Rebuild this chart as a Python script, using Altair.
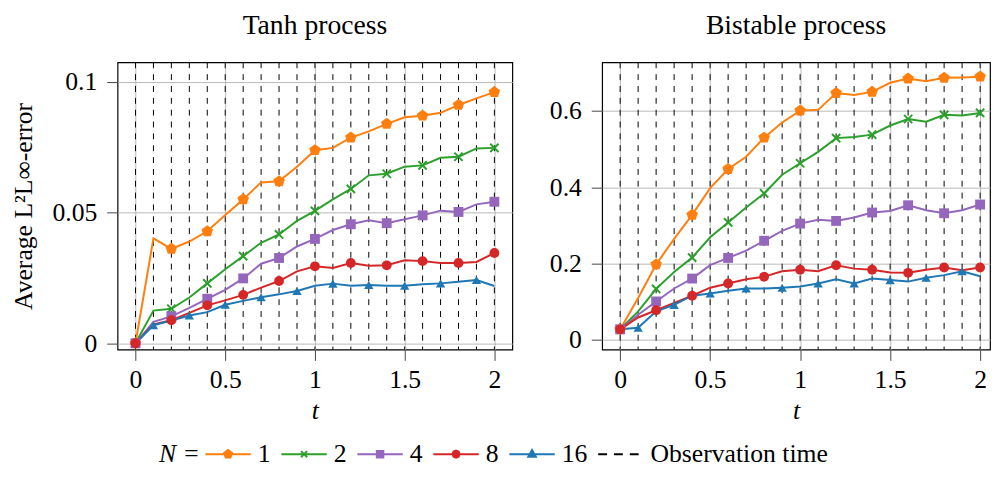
import altair as alt
import pandas as pd

# ---------------- data ----------------
t_grid = [0.0, 0.1, 0.2, 0.3, 0.4, 0.5, 0.6, 0.7, 0.8, 0.9, 1.0,
          1.1, 1.2, 1.3, 1.4, 1.5, 1.6, 1.7, 1.8, 1.9, 2.0]
obs_times = t_grid

series_names = ["1", "2", "4", "8", "16"]

tanh_N1 = [0.0, 0.0401, 0.0361, 0.0389, 0.0428, 0.0490, 0.0550, 0.0615, 0.0619, 0.0675, 0.0738,
           0.0747, 0.0786, 0.0810, 0.0839, 0.0864, 0.0870, 0.0881, 0.0911, 0.0936, 0.0960]
tanh_N2 = [0.0, 0.0125, 0.0132, 0.0175, 0.0229, 0.0283, 0.0333, 0.0384, 0.0416, 0.0468, 0.0506,
           0.0550, 0.0590, 0.0642, 0.0648, 0.0675, 0.0680, 0.0709, 0.0713, 0.0745, 0.0747]
tanh_N4 = [0.0, 0.0082, 0.0103, 0.0135, 0.0170, 0.0204, 0.0248, 0.0304, 0.0326, 0.0370, 0.0399,
           0.0433, 0.0455, 0.0470, 0.0459, 0.0474, 0.0489, 0.0507, 0.0502, 0.0531, 0.0541]
tanh_N8 = [0.0, 0.0072, 0.0088, 0.0116, 0.0145, 0.0164, 0.0185, 0.0213, 0.0238, 0.0275, 0.0294,
           0.0288, 0.0307, 0.0296, 0.0298, 0.0317, 0.0314, 0.0307, 0.0307, 0.0311, 0.0345]
tanh_N16 = [0.0, 0.0069, 0.0087, 0.0106, 0.0119, 0.0147, 0.0162, 0.0176, 0.0187, 0.0200, 0.0220,
            0.0228, 0.0220, 0.0223, 0.0220, 0.0220, 0.0226, 0.0229, 0.0235, 0.0242, 0.0219]

bist_N1 = [0.0276, 0.110, 0.198, 0.265, 0.328, 0.398, 0.448, 0.480, 0.530, 0.570, 0.601,
           0.603, 0.647, 0.642, 0.650, 0.674, 0.685, 0.678, 0.687, 0.688, 0.690]
bist_N2 = [0.028, 0.075, 0.134, 0.178, 0.216, 0.269, 0.308, 0.347, 0.384, 0.433, 0.463,
           0.493, 0.529, 0.532, 0.538, 0.562, 0.579, 0.572, 0.590, 0.588, 0.595]
bist_N4 = [0.028, 0.066, 0.101, 0.135, 0.161, 0.196, 0.215, 0.234, 0.260, 0.286, 0.305,
           0.315, 0.312, 0.321, 0.334, 0.338, 0.353, 0.340, 0.332, 0.340, 0.355]
bist_N8 = [0.028, 0.059, 0.078, 0.097, 0.116, 0.137, 0.148, 0.159, 0.166, 0.180, 0.184,
           0.180, 0.196, 0.187, 0.184, 0.177, 0.176, 0.184, 0.190, 0.183, 0.190]
bist_N16 = [0.028, 0.032, 0.075, 0.092, 0.116, 0.122, 0.129, 0.135, 0.135, 0.137, 0.140,
            0.148, 0.159, 0.148, 0.161, 0.157, 0.153, 0.163, 0.170, 0.180, 0.167]

tanh_series = [tanh_N1, tanh_N2, tanh_N4, tanh_N8, tanh_N16]
bist_series = [bist_N1, bist_N2, bist_N4, bist_N8, bist_N16]

# ---------------- styling ----------------
FONT = "Liberation Serif"
FS = 26
TFS = 28
colors = ["#ff7f0e", "#2ca02c", "#9467bd", "#d62728", "#1f77b4"]
legend_domain = series_names + ["Observation time"]
legend_colors = colors + ["#000000"]

pentagon = "M0,-1L0.951,-0.309L0.588,0.809L-0.588,0.809L-0.951,-0.309Z"
xmark = "M-1,-1L1,1M-1,1L1,-1"
marker_shapes = [pentagon, xmark, "square", "circle", "triangle-up"]
marker_sizes = [150, 70, 100, 100, 90]

# legend symbols: line with a small marker (1 unit = 11 px)
leg_shapes = [
    "M-1,0H3.18M1.09,-0.38L1.451,-0.117L1.313,0.307L0.867,0.307L0.729,-0.117Z",
    "M-1,0H3.18M0.81,-0.28L1.37,0.28M0.81,0.28L1.37,-0.28",
    "M-1,0H3.18M0.79,-0.3H1.39V0.3H0.79Z",
    "M-1,0H3.18M1.42,0L1.323,0.233L1.09,0.33L0.857,0.233L0.76,0L0.857,-0.233L1.09,-0.33L1.323,-0.233Z",
    "M-1,0H3.18M1.09,-0.38L1.44,0.25L0.74,0.25Z",
    "M-1,0H-0.18M0.45,0H1.27M1.91,0H2.73",
]


def long_df(series):
    rows = []
    for name, vals in zip(series_names, series):
        for i, (t, v) in enumerate(zip(t_grid, vals)):
            rows.append({"t": t, "err": v, "N": name, "idx": i})
    return pd.DataFrame(rows)


tanh_df = long_df(tanh_series)
bist_df = long_df(bist_series)
obs_df = pd.DataFrame({"t": obs_times})

legend = alt.Legend(
    orient="none", legendX=42, legendY=384, direction="horizontal",
    title="N =", titleOrient="left", titleFont=FONT, titleFontSize=FS,
    titleFontStyle="italic", titleFontWeight="normal", titleColor="black",
    titlePadding=3, titleBaseline="middle", titleAnchor="middle",
    labelFont=FONT, labelFontSize=FS, labelColor="black", labelOffset=29,
    labelLimit=0,
    symbolSize=484, symbolStrokeWidth=2, symbolOpacity=1, columnPadding=7,
)

color_enc = alt.Color("N:N", scale=alt.Scale(domain=series_names, range=colors),
                      legend=None)
fill_enc = alt.Fill("N:N", title="N =",
                    scale=alt.Scale(domain=legend_domain, range=legend_colors),
                    legend=legend)
stroke_enc = alt.Stroke("N:N", title="N =",
                        scale=alt.Scale(domain=legend_domain, range=legend_colors),
                        legend=legend)
shape_enc = alt.Shape("N:N", title="N =",
                      scale=alt.Scale(domain=legend_domain, range=leg_shapes),
                      legend=legend)


def panel(df, title, ydomain, yvals, xmax, width, ytitle, with_legend):
    x = alt.X("t:Q", title="t",
              scale=alt.Scale(domain=[-0.1, xmax], nice=False, zero=False),
              axis=alt.Axis(values=[0, 0.5, 1, 1.5, 2], format="~g",
                            titleFontStyle="italic", titlePadding=6, labelPadding=6))
    y = alt.Y("err:Q", title=ytitle,
              scale=alt.Scale(domain=ydomain, nice=False, zero=False),
              axis=alt.Axis(values=yvals, format="~g", titlePadding=16, labelPadding=10))
    base = alt.Chart(df)
    rules = alt.Chart(obs_df).mark_rule(color="black", strokeWidth=1,
                                        strokeDash=[6, 6]).encode(x=alt.X("t:Q"))
    lines = base.mark_line(strokeWidth=2).encode(
        x=x, y=y, color=color_enc, detail="N:N", order="t:Q")
    layers = [rules, lines]
    for k, name in enumerate(series_names):
        parity = 1 if name == "16" else 0
        pts = base.transform_filter(
            (alt.datum.N == name) & (alt.datum.idx % 2 == parity)
        )
        if name == "2":
            m = pts.mark_point(shape=marker_shapes[k], size=marker_sizes[k],
                               filled=False, strokeWidth=2, opacity=1)
        else:
            m = pts.mark_point(shape=marker_shapes[k], size=marker_sizes[k],
                               filled=True, opacity=1)
        layers.append(m.encode(x="t:Q", y="err:Q", color=color_enc))
    if with_legend:
        leg = base.transform_filter("datum.idx < 0").mark_point().encode(
            x="t:Q", y="err:Q", fill=fill_enc, stroke=stroke_enc, shape=shape_enc)
        layers.append(leg)
    return alt.layer(*layers).properties(
        width=width, height=291,
        title=alt.Title(title, font=FONT, fontSize=TFS, fontWeight="normal",
                        color="black", frame="group", anchor="middle", offset=22),
    )


left = panel(tanh_df, "Tanh process", [-0.0024, 0.1074], [0, 0.05, 0.1],
             2.1, 400, "Average L²L∞-error", True)
right = panel(bist_df, "Bistable process", [-0.025, 0.7275], [0, 0.2, 0.4, 0.6],
              2.055, 393, None, False)

chart = alt.hconcat(left, right, spacing=35).configure_axis(
    labelFont=FONT, labelFontSize=FS, labelColor="black",
    titleFont=FONT, titleFontSize=FS, titleFontWeight="normal", titleColor="black",
    gridColor="#b8b8b8", gridWidth=1, tickColor="#444", tickSize=11,
    domain=False,
).configure_view(stroke="black", strokeWidth=1.2).properties(
    padding={"left": 1, "top": 0, "right": 0, "bottom": 0})

chart.save("out.html", embed_options={"renderer": "svg", "actions": False})
